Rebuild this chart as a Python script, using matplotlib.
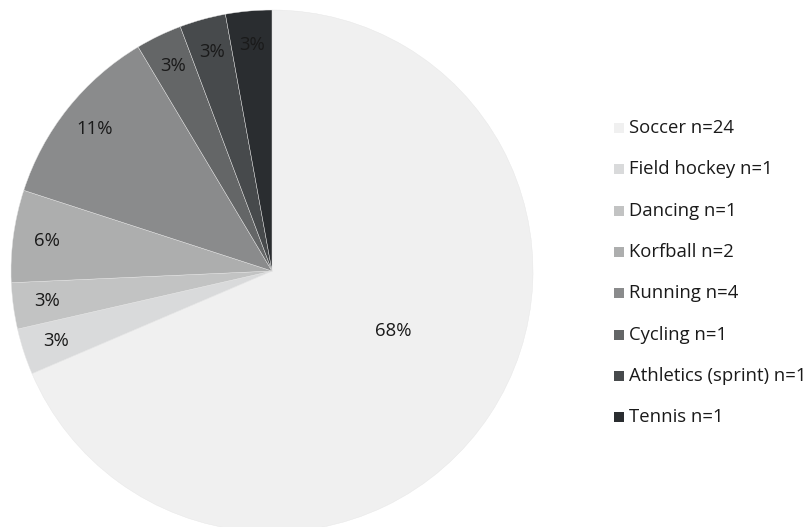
import numpy as np
import matplotlib
matplotlib.use("Agg")
from matplotlib import pyplot as plt
from matplotlib.patches import Rectangle

plt.rcParams['font.family'] = ['Open Sans', 'DejaVu Sans']

sports = ["Soccer", "Field hockey", "Dancing", "Korfball", "Running",
          "Cycling", "Athletics (sprint)", "Tennis"]
counts = [24, 1, 1, 2, 4, 1, 1, 1]
pct_labels = ["68%", "3%", "3%", "6%", "11%", "3%", "3%", "3%"]
colors = ["#f0f0f0", "#d9dadb", "#c2c3c3", "#adaeae", "#8a8b8c",
          "#646667", "#474a4c", "#2a2d30"]

W, H = 812, 527
fig = plt.figure(figsize=(W / 100, H / 100), dpi=100)

# pie centre (272, 271) px, radius 261 px
cx, cy, r = 272, 271, 261
ax = fig.add_axes([(cx - r) / W, (H - cy - r) / H, 2 * r / W, 2 * r / H])

wedges, _ = ax.pie(counts, colors=colors, startangle=90, counterclock=False,
                   wedgeprops=dict(edgecolor="#e6e6e6", linewidth=0.3))
ax.set_xlim(-1, 1)
ax.set_ylim(-1, 1)
ax.set_aspect("auto")
ax.axis("off")

# percentage labels sit near the rim, the big slice's label further in
for i, (w, lab) in enumerate(zip(wedges, pct_labels)):
    ang = np.deg2rad((w.theta1 + w.theta2) / 2)
    if i == 0:
        x, y = 0.465, -0.23
    else:
        x, y = 0.87 * np.cos(ang), 0.87 * np.sin(ang)
    ax.text(x, y, lab, ha="center", va="center", fontsize=13.3,
            color="#1a1a1a")

# legend: small squares with labels
for i, (name, n, c) in enumerate(zip(sports, counts, colors)):
    yc = 128 + i * 41.3
    fig.patches.append(Rectangle((614 / W, (H - yc - 5) / H), 10 / W, 10 / H,
                                 transform=fig.transFigure, facecolor=c,
                                 edgecolor="none"))
    fig.text(629 / W, (H - yc) / H, f"{name} n={n}", ha="left", va="center",
             fontsize=13.3, color="#1a1a1a")

fig.savefig("out.png", dpi=100)
